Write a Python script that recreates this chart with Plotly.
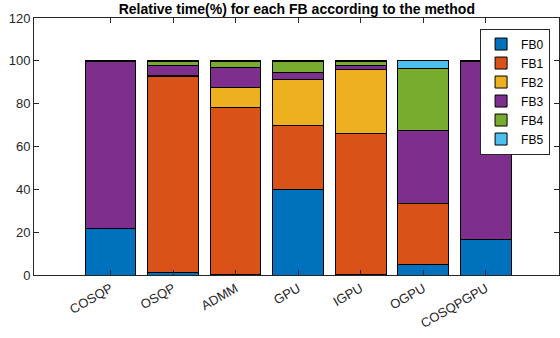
import plotly.graph_objects as go

methods = ["COSQP", "OSQP", "ADMM", "GPU", "IGPU", "OGPU", "COSQPGPU"]
series_names = ["FB0", "FB1", "FB2", "FB3", "FB4", "FB5"]
fb0 = [21.8, 1.1, 0.3, 39.7, 0.3, 5.0, 16.4]
fb1 = [0.0, 91.7, 77.9, 30.1, 65.9, 28.3, 0.0]
fb2 = [0.0, 0.2, 9.3, 21.3, 29.9, 0.0, 0.0]
fb3 = [77.9, 4.9, 9.6, 3.4, 1.6, 34.0, 83.3]
fb4 = [0.2, 1.6, 2.8, 5.4, 2.0, 29.3, 0.2]
fb5 = [0.1, 0.5, 0.1, 0.1, 0.3, 3.4, 0.1]
colors = ["#0072BD", "#D95319", "#EDB120", "#7E2F8E", "#77AC30", "#4DBEEE"]

xs = list(range(len(methods)))
fig = go.Figure()
for name, vals, c in zip(series_names, [fb0, fb1, fb2, fb3, fb4, fb5], colors):
    fig.add_trace(go.Bar(x=xs, y=vals, name=name, marker=dict(color=c, line=dict(color="black", width=1)), width=0.81))

axis_col = "#262626"
fig.update_layout(
    barmode="stack",
    width=560, height=338,
    margin=dict(l=34, r=1, t=18, b=63),
    plot_bgcolor="white", paper_bgcolor="white",
    font=dict(family="Liberation Sans, Arial, sans-serif", size=13, color=axis_col),
    title=dict(text="<b>Relative time(%) for each FB according to the method</b>",
               x=0.530, xanchor="center", y=0.988, yanchor="top",
               font=dict(size=14, color="black")),
    legend=dict(x=0.983, xanchor="right", y=0.959, yanchor="top",
                bordercolor="#262626", borderwidth=1, bgcolor="white",
                font=dict(size=12, color="black"), tracegroupgap=0, traceorder="normal",
                itemwidth=30),
    bargap=0.19,
)
fig.update_xaxes(range=[-1.224, 7.17], tickmode="array", tickvals=xs, ticktext=methods,
                 tickangle=-30, ticks="inside", ticklen=5, tickcolor=axis_col,
                 showline=True, linecolor=axis_col, linewidth=1, mirror="allticks",
                 showgrid=False, zeroline=False, automargin=False)
fig.update_yaxes(range=[0, 120], dtick=20, ticks="inside", ticklen=5, tickcolor=axis_col,
                 showline=True, linecolor=axis_col, linewidth=1, mirror="allticks",
                 showgrid=False, zeroline=False, automargin=False)
fig.write_html("out.html", post_script="document.body.style.margin='0';",
               config={"displayModeBar": False})
